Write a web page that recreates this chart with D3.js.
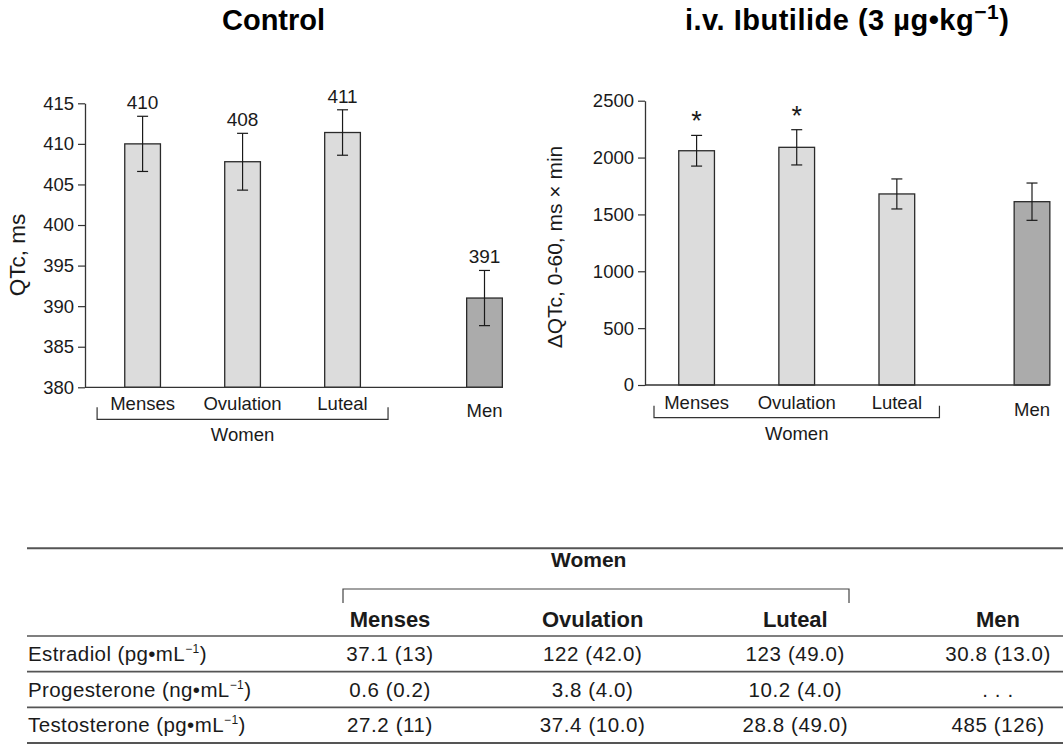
<!DOCTYPE html>
<html>
<head>
<meta charset="utf-8">
<script src="https://cdn.jsdelivr.net/npm/d3@7/dist/d3.min.js"></script>
<style>
  body { margin: 0; background: #fff; }
  svg { display: block; font-family: "Liberation Sans", Arial, Helvetica, sans-serif; }
</style>
</head>
<body>
<svg id="chart" width="1063" height="748"></svg>
<script>
// ---- data ----
const categories = ["Menses", "Ovulation", "Luteal", "Men"];
const qtcValues = [410.0, 407.8, 411.4, 391.0];
const qtcErrors = [3.4, 3.5, 2.8, 3.4];
const qtcLabels = ["410", "408", "411", "391"];
const qtcTicks = [380, 385, 390, 395, 400, 405, 410, 415];

const dqtcValues = [2060, 2090, 1680, 1612];
const dqtcErrors = [135, 155, 132, 164];
const dqtcStars = ["*", "*", "", ""];
const dqtcTicks = [0, 500, 1000, 1500, 2000, 2500];

const tableColumns = ["Menses", "Ovulation", "Luteal", "Men"];
const hormoneNames = ["Estradiol", "Progesterone", "Testosterone"];
const hormoneUnits = ["pg•mL", "ng•mL", "pg•mL"];
const hormoneMenses = ["37.1 (13)", "0.6 (0.2)", "27.2 (11)"];
const hormoneOvulation = ["122 (42.0)", "3.8 (4.0)", "37.4 (10.0)"];
const hormoneLuteal = ["123 (49.0)", "10.2 (4.0)", "28.8 (49.0)"];
const hormoneMen = ["30.8 (13.0)", ". . .", "485 (126)"];

// ---- layout ----
const svg = d3.select("#chart");
const ink = "#1a1a1a";
const womenFill = "#dcdcdc";
const menFill = "#ababab";
const barW = 35.7;
// slot positions along x (women 0..2, men after a gap)
const slots = [0, 1, 2, null];

function drawPanel(cfg) {
  const g = svg.append("g");
  const s = slots.map(d => d === null ? cfg.menSlot : d);
  const x = d3.scaleLinear().domain([0, cfg.menSlot]).range(cfg.xRange);
  const y = d3.scaleLinear().domain(cfg.domain).range(cfg.yRange);
  const rows = categories.map((c, i) => ({c, v: cfg.values[i], e: cfg.errors[i], slot: s[i], i}));

  // bars
  g.selectAll("rect.bar").data(rows).join("rect")
    .attr("class", "bar")
    .attr("x", d => x(d.slot) - barW / 2)
    .attr("width", barW)
    .attr("y", d => y(d.v))
    .attr("height", d => y(cfg.domain[0]) - y(d.v))
    .attr("fill", d => d.c === "Men" ? menFill : womenFill)
    .attr("stroke", "#2a2a2a")
    .attr("stroke-width", 1.3);

  // error bars
  const eb = g.selectAll("g.err").data(rows).join("g").attr("class", "err")
    .attr("stroke", ink).attr("stroke-width", 1.2);
  eb.append("line")
    .attr("x1", d => x(d.slot)).attr("x2", d => x(d.slot))
    .attr("y1", d => y(d.v + d.e)).attr("y2", d => y(d.v - d.e));
  eb.append("line")
    .attr("x1", d => x(d.slot) - 5.5).attr("x2", d => x(d.slot) + 5.5)
    .attr("y1", d => y(d.v + d.e)).attr("y2", d => y(d.v + d.e));
  eb.append("line")
    .attr("x1", d => x(d.slot) - 5.5).attr("x2", d => x(d.slot) + 5.5)
    .attr("y1", d => y(d.v - d.e)).attr("y2", d => y(d.v - d.e));

  // labels above error bars
  if (cfg.labels) {
    g.selectAll("text.val").data(rows).join("text")
      .attr("class", "val")
      .attr("x", d => x(d.slot))
      .attr("y", d => y(d.v + d.e) - 7)
      .attr("text-anchor", "middle")
      .attr("font-size", 19)
      .attr("fill", ink)
      .text(d => cfg.labels[d.i]);
  }
  if (cfg.stars) {
    g.selectAll("text.star").data(rows).join("text")
      .attr("class", "star")
      .attr("x", d => x(d.slot))
      .attr("y", d => y(d.v + d.e) - 5)
      .attr("text-anchor", "middle")
      .attr("font-size", 27)
      .attr("fill", ink)
      .text(d => cfg.stars[d.i]);
  }

  // y axis
  const axis = g.append("g")
    .attr("transform", `translate(${cfg.axisX},0)`)
    .call(d3.axisLeft(y).tickValues(cfg.ticks).tickFormat(d3.format("d"))
      .tickSize(7).tickSizeOuter(0).tickPadding(4));
  axis.select(".domain").attr("stroke", "#333").attr("stroke-width", 1.3);
  axis.selectAll(".tick line").attr("stroke", "#333").attr("stroke-width", 1.2);
  axis.selectAll(".tick text")
    .attr("font-size", 18.5).attr("fill", ink)
    .attr("font-family", "Liberation Sans, Arial, sans-serif");

  // baseline
  g.append("line")
    .attr("x1", cfg.axisX).attr("x2", x(cfg.menSlot) + barW / 2)
    .attr("y1", y(cfg.domain[0])).attr("y2", y(cfg.domain[0]))
    .attr("stroke", "#333").attr("stroke-width", 1.3);

  // category labels
  g.selectAll("text.cat").data(rows).join("text")
    .attr("class", "cat")
    .attr("x", d => x(d.slot))
    .attr("y", d => d.c === "Men" ? cfg.catY + 7 : cfg.catY)
    .attr("text-anchor", "middle")
    .attr("font-size", 18.5)
    .attr("fill", ink)
    .text(d => d.c);

  // women bracket
  const b0 = x(0) - cfg.bracketPad, b1 = x(2) + cfg.bracketPad;
  g.append("path")
    .attr("d", `M${b0},${cfg.bracketY - 12}V${cfg.bracketY}H${b1}V${cfg.bracketY - 12}`)
    .attr("fill", "none").attr("stroke", "#333").attr("stroke-width", 1.2);
  g.append("text")
    .attr("x", x(1)).attr("y", cfg.bracketY + 22)
    .attr("text-anchor", "middle").attr("font-size", 18.5).attr("fill", ink)
    .text("Women");

  // y title
  g.append("text")
    .attr("transform", `translate(${cfg.titleX},${cfg.titleY}) rotate(-90)`)
    .attr("text-anchor", "middle").attr("font-size", cfg.titleSize).attr("fill", ink)
    .text(cfg.yTitle);
}

drawPanel({
  values: qtcValues, errors: qtcErrors, labels: qtcLabels, ticks: qtcTicks,
  domain: [380, 415], yRange: [387.3, 103.3],
  xRange: [142.6, 484.5], menSlot: 3.42, axisX: 85,
  catY: 410, bracketY: 419.3, bracketPad: 45.5,
  titleX: 25, titleY: 255, titleSize: 22.5, yTitle: "QTc, ms"
});

drawPanel({
  values: dqtcValues, errors: dqtcErrors, stars: dqtcStars, ticks: dqtcTicks,
  domain: [0, 2500], yRange: [385, 100.7],
  xRange: [696.6, 1032], menSlot: 3.35, axisX: 645,
  catY: 408.5, bracketY: 417.7, bracketPad: 42.6,
  titleX: 562, titleY: 247, titleSize: 21, yTitle: "ΔQTc, 0-60, ms × min"
});

// ---- panel titles ----
svg.append("text")
  .attr("x", 222).attr("y", 30)
  .attr("font-size", 29).attr("font-weight", "bold").attr("fill", "#000")
  .text("Control");
const t2 = svg.append("text")
  .attr("x", 685).attr("y", 30)
  .attr("font-size", 29).attr("font-weight", "bold").attr("letter-spacing", 0.5).attr("fill", "#000");
t2.append("tspan").text("i.v. Ibutilide (3 µg•kg");
t2.append("tspan").attr("font-size", 21).attr("dy", -11).text("−1");
t2.append("tspan").attr("dy", 11).text(")");

// ---- table ----
const tbl = svg.append("g");
const colX = d3.scalePoint().domain(tableColumns).range([390, 998]);
const rowY = d3.scaleBand().domain(hormoneNames).range([636, 743]);
const lineColor = "#555";

[548.3, 743].forEach(yy => tbl.append("line")
  .attr("x1", 27).attr("x2", 1063).attr("y1", yy).attr("y2", yy)
  .attr("stroke", lineColor).attr("stroke-width", 2));
hormoneNames.forEach(h => tbl.append("line")
  .attr("x1", 27).attr("x2", 1063).attr("y1", rowY(h)).attr("y2", rowY(h))
  .attr("stroke", lineColor).attr("stroke-width", 1.6));

tbl.append("text")
  .attr("x", (colX("Menses") + colX("Luteal")) / 2 - 4).attr("y", 567)
  .attr("text-anchor", "middle").attr("font-size", 21).attr("font-weight", "bold").attr("fill", ink)
  .text("Women");
tbl.append("path")
  .attr("d", `M343,603V589H849V603`)
  .attr("fill", "none").attr("stroke", "#444").attr("stroke-width", 1.2);

tbl.selectAll("text.colhead").data(tableColumns).join("text")
  .attr("class", "colhead")
  .attr("x", d => colX(d)).attr("y", 627)
  .attr("text-anchor", "middle").attr("font-size", 22).attr("font-weight", "bold").attr("fill", ink)
  .text(d => d);

const cells = [hormoneMenses, hormoneOvulation, hormoneLuteal, hormoneMen];
hormoneNames.forEach((h, r) => {
  const ty = rowY(h) + rowY.bandwidth() / 2 + 7;
  const lab = tbl.append("text")
    .attr("x", 28).attr("y", ty)
    .attr("font-size", 20.5).attr("letter-spacing", 0.4).attr("fill", ink);
  lab.append("tspan").text(h + " (" + hormoneUnits[r]);
  lab.append("tspan").attr("font-size", 12).attr("dy", -8).text("−1");
  lab.append("tspan").attr("dy", 8).text(")");
  tableColumns.forEach((c, k) => {
    tbl.append("text")
      .attr("x", colX(c)).attr("y", ty)
      .attr("text-anchor", "middle").attr("font-size", 20.5).attr("letter-spacing", 0.6).attr("fill", ink)
      .text(cells[k][r]);
  });
});
</script>
</body>
</html>
